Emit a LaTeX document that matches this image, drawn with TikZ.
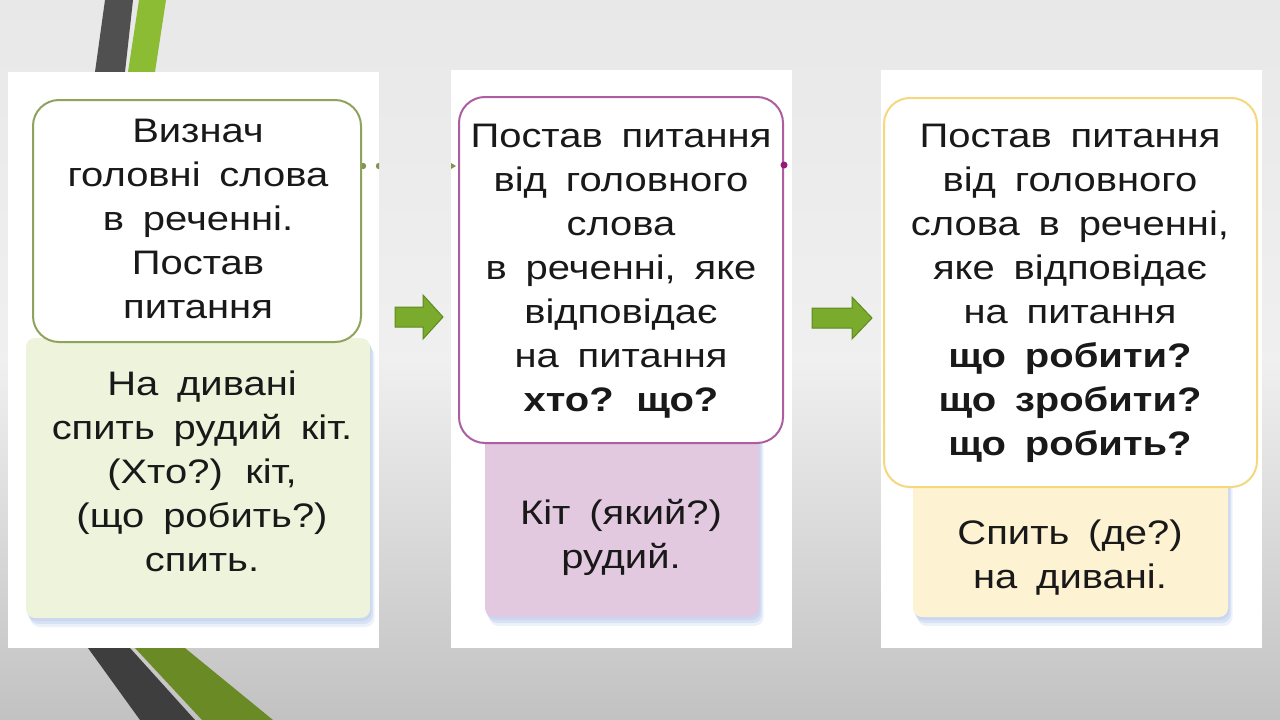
\documentclass[tikz,border=0pt]{standalone}
\usepackage{fontspec}
\setmainfont{Liberation Sans}[WordSpace={1.7},FakeStretch=1.175]
\definecolor{olive}{RGB}{143,163,92}
\definecolor{greenfill}{RGB}{238,244,220}
\definecolor{mag}{RGB}{172,94,160}
\definecolor{magdot}{RGB}{150,25,120}
\definecolor{pinkfill}{RGB}{227,201,224}
\definecolor{yel}{RGB}{245,215,125}
\definecolor{creamfill}{RGB}{253,243,210}
\definecolor{arrowfill}{RGB}{122,171,44}
\definecolor{arrowedge}{RGB}{95,138,30}
\definecolor{stripedark}{RGB}{80,80,80}
\definecolor{stripedarkb}{RGB}{62,62,62}
\definecolor{stripegreen}{RGB}{140,188,52}
\definecolor{stripegreenb}{RGB}{106,138,37}
\definecolor{shadowblue}{RGB}{196,212,240}
\definecolor{txt}{RGB}{25,25,25}
\begin{document}
\begin{tikzpicture}[x=1pt,y=-1pt,
  panel/.style={fill=white,draw=none,inner sep=0pt},
  topbox/.style={draw=#1,line width=2pt,fill=white,rounded corners=26pt,inner sep=0pt},
  botbox/.style={fill=#1,draw=none,rounded corners=9pt,inner sep=0pt},
  words/.style={text=txt,align=center,inner sep=0pt,font=\fontsize{34}{44}\selectfont},
  blockarrow/.style={fill=arrowfill,draw=arrowedge,line width=1pt,line join=miter}]
\useasboundingbox (0,0) rectangle (1280,720);
% background
\shade[top color=black!9,bottom color=black!24,middle color=black!6] (0,0) rectangle (1280,720);
% decorative stripes
\fill[stripedark] (105,0) -- (133,0) -- (125,72) -- (95,72) -- cycle;
\fill[stripegreen] (139,0) -- (166,0) -- (155,72) -- (128,72) -- cycle;
\fill[stripedarkb] (88,648) -- (130,648) -- (195,720) -- (140,720) -- cycle;
\fill[stripegreenb] (135,648) -- (185,648) -- (273,720) -- (202,720) -- cycle;
% white panels
\node[panel,minimum width=371pt,minimum height=576pt] (p1) at (193.5,360) {};
\node[panel,minimum width=341pt,minimum height=578pt] (p2) at (621.5,359) {};
\node[panel,minimum width=381pt,minimum height=578pt] (p3) at (1071.5,359) {};
% small fragments of connectors
\fill[olive!90!black] (363,166) circle (3.2);
\begin{scope}
\clip (370,150) rectangle (379,180);
\fill[olive!90!black] (379,166) circle (3.2);
\end{scope}
\fill[olive!90!black] (451,163) -- (456,166) -- (451,169) -- cycle;
% panel 1
\foreach \d/\o in {9/0.3,6/0.5,3/0.75}{
  \fill[shadowblue,opacity=\o,rounded corners=9pt] (26+\d*0.5,338+\d) rectangle (370+\d*0.5,618+\d);}
\node[botbox=greenfill,minimum width=344pt,minimum height=280pt] (b1) at (198,478) {};
\node[topbox=olive,minimum width=328pt,minimum height=242pt] (t1) at (197,221) {};
\node[words] (w1) at (198,219) {Визнач\\головні слова\\в реченні.\\Постав\\питання};
\node[words] (v1) at (202,471) {На дивані\\спить рудий кіт.\\(Хто?) кіт,\\(що робить?)\\спить.};
% panel 2
\foreach \d/\o in {9/0.3,6/0.5,3/0.75}{
  \fill[shadowblue,opacity=\o,rounded corners=9pt] (485+\d*0.5,430+\d) rectangle (759+\d*0.5,617+\d);}
\node[botbox=pinkfill,minimum width=274pt,minimum height=187pt] (b2) at (622,523.5) {};
\node[topbox=mag,minimum width=324pt,minimum height=346pt] (t2) at (621,270) {};
\fill[magdot] (t2.east |- 0,165) circle (3.5);
\node[words] (w2) at (621,271) {Постав питання\\від головного\\слова\\в реченні, яке\\відповідає\\на питання\\\textbf{хто? що?}};
\node[words] (v2) at (621,537) {Кіт (який?)\\рудий.};
% panel 3
\foreach \d/\o in {9/0.3,6/0.5,3/0.75}{
  \fill[shadowblue,opacity=\o,rounded corners=9pt] (913+\d*0.5,470+\d) rectangle (1228+\d*0.5,617+\d);}
\node[botbox=creamfill,minimum width=315pt,minimum height=147pt] (b3) at (1070.5,543.5) {};
\node[topbox=yel,minimum width=373pt,minimum height=389pt] (t3) at (1070.5,292.5) {};
\node[words] (w3) at (1070,293) {Постав питання\\від головного\\слова в реченні,\\яке відповідає\\на питання\\\textbf{що робити?}\\\textbf{що зробити?}\\\textbf{що робить?}};
\node[words] (v3) at (1070,558) {Спить (де?)\\на дивані.};
% block arrows
\coordinate (a1) at (395,317);
\draw[blockarrow] (a1) ++(0,-10) -- ++(28,0) -- ++(0,-12) -- ++(20,22) -- ++(-20,22) -- ++(0,-12) -- ++(-28,0) -- cycle;
\coordinate (a2) at (812,318);
\draw[blockarrow] (a2) ++(0,-10) -- ++(40,0) -- ++(0,-11) -- ++(20,21) -- ++(-20,21) -- ++(0,-11) -- ++(-40,0) -- cycle;
\end{tikzpicture}
\end{document}
